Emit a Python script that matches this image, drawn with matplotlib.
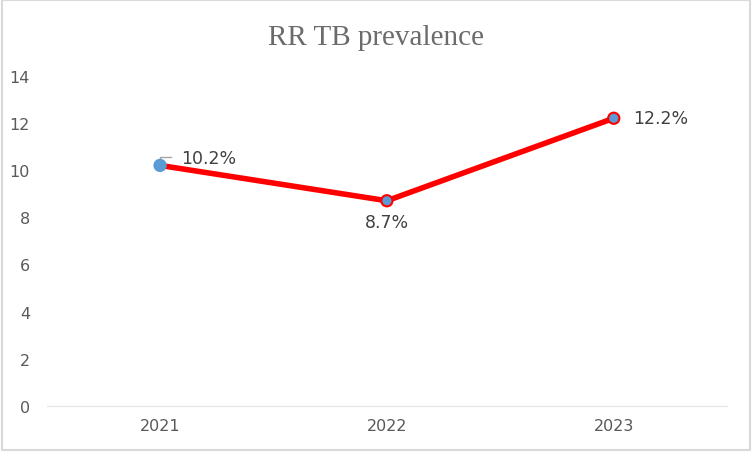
import matplotlib.pyplot as plt

years = ['2021', '2022', '2023']
prevalence = [10.2, 8.7, 12.2]
labels = ['10.2%', '8.7%', '12.2%']
yticks = [0, 2, 4, 6, 8, 10, 12, 14]

fig = plt.figure(figsize=(7.52, 4.52), dpi=100)
ax = fig.add_axes([0.062, 0.1, 0.905, 0.73])

x = range(len(years))
ax.plot(x, prevalence, color='#ff0000', linewidth=4, zorder=2)
edges = ['#5b9bd5', '#ff0000', '#ff0000']
ax.scatter(x, prevalence, s=65, color='#5b9bd5', edgecolors=edges,
           linewidths=1.5, zorder=3)

# data labels
ax.annotate(labels[0], (0, prevalence[0]), xytext=(15, 5), textcoords='offset points',
            ha='left', va='center', color='#404040', fontsize=12.5)
ax.plot([0, 0, 0.05], [prevalence[0], prevalence[0] + 0.35, prevalence[0] + 0.35],
        color='#a6a6a6', lw=1, zorder=1)
ax.annotate(labels[1], (1, prevalence[1]), xytext=(0, -15), textcoords='offset points',
            ha='center', va='center', color='#404040', fontsize=12.5)
ax.annotate(labels[2], (2, prevalence[2]), xytext=(14, 0), textcoords='offset points',
            ha='left', va='center', color='#404040', fontsize=12.5)

ax.set_xlim(-0.5, 2.5)
ax.set_ylim(0, 14)
ax.set_xticks(list(x))
ax.set_xticklabels(years)
ax.set_yticks(yticks)
ax.tick_params(axis='both', length=0, labelcolor='#595959', labelsize=11.5)
ax.tick_params(axis='y', pad=12)
ax.tick_params(axis='x', pad=9)
for side in ['top', 'right', 'left']:
    ax.spines[side].set_visible(False)
ax.spines['bottom'].set_color('#e6e6e6')

fig.text(0.5, 0.915, 'RR TB prevalence', ha='center', va='center',
         family='Liberation Serif', fontsize=21, color='#6b6b6b')

# outer frame
fig.patches.append(plt.Rectangle((0.002, 0.002), 0.996, 0.996, transform=fig.transFigure,
                                 fill=False, edgecolor='#d9d9d9', linewidth=1.5))

fig.savefig('out.png', dpi=100)
